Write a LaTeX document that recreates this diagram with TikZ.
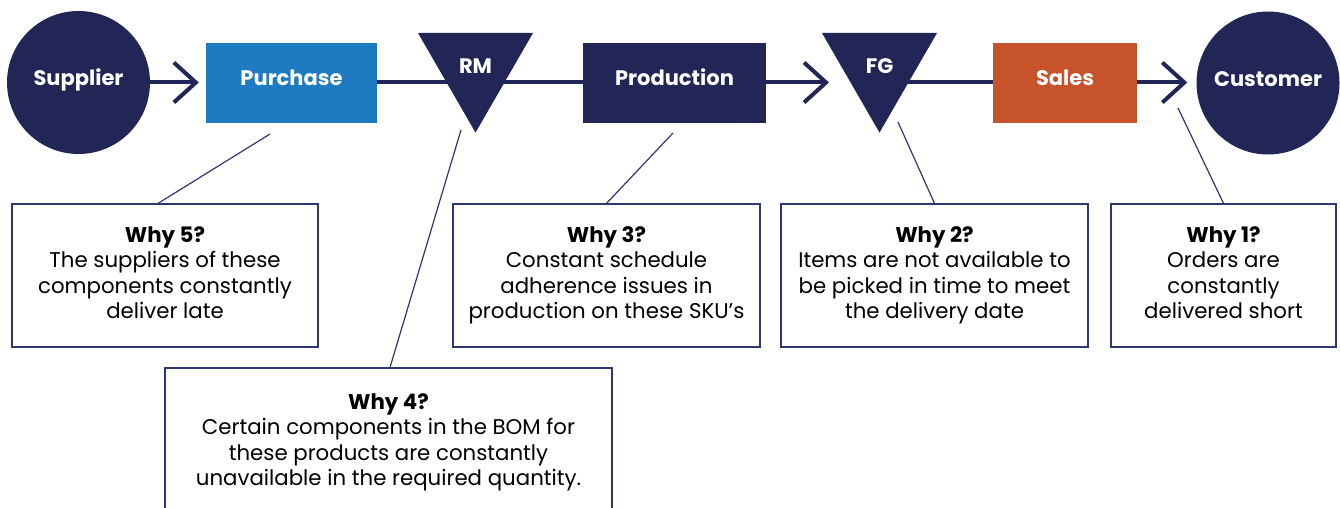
\documentclass[tikz,border=0pt]{standalone}
\usepackage{fontspec}
\setmainfont{Poppins}
\usetikzlibrary{arrows.meta,shapes.geometric,backgrounds}
\definecolor{navy}{HTML}{212656}
\definecolor{pblue}{HTML}{1E7BC1}
\definecolor{sorange}{HTML}{C6532C}
\definecolor{boxline}{HTML}{2E3770}
\begin{document}
\begin{tikzpicture}[x=1pt,y=-1pt,
  lbl/.style={text=white,font=\fontsize{21}{25}\selectfont\bfseries},
  circ/.style={circle,fill=navy,minimum size=143pt,inner sep=0pt,lbl,text height=14pt,text depth=7pt},
  rectbox/.style={rectangle,minimum height=80pt,inner sep=0pt,lbl,text height=12pt,text depth=6pt},
  tri/.style={regular polygon,regular polygon sides=3,shape border rotate=180,fill=navy,minimum size=132.8pt,inner sep=0pt,lbl,text height=16pt,text depth=1.8pt},
  flow/.style={navy,line width=4pt},
  flowarrow/.style={flow,-{Straight Barb[length=22pt,width=40pt]}},
  whybox/.style={draw=boxline,line width=1.2pt,rectangle,minimum height=143pt,inner sep=0pt,align=center,font=\fontsize{21.3}{25.5}\selectfont},
  conn/.style={boxline,line width=1.2pt}]
\useasboundingbox (0,0) rectangle (1340,508);
% process nodes
\node[circ] (supplier) at (78.5,82.5) {Supplier};
\node[rectbox,fill=pblue,minimum width=171pt] (purchase) at (291.5,83) {Purchase};
\node[tri] (rm) at (475.5,66.2) {RM};
\node[rectbox,fill=navy,minimum width=183pt] (production) at (674.5,83) {Production};
\node[tri] (fg) at (879.5,66.2) {FG};
\node[rectbox,fill=sorange,minimum width=144pt] (sales) at (1065,83) {Sales};
\node[circ] (customer) at (1268,83) {Customer};
\coordinate (fgin) at (829,82.5);
% flow lines
\begin{scope}[on background layer]
\draw[flow] (purchase.east |- 0,82.5) -- (production.west |- 0,82.5);
\draw[flow] (fg.center |- 0,82.5) -- (sales.west |- 0,82.5);
\end{scope}
\draw[flowarrow,shorten >=7pt] (supplier.east) -- (purchase.west |- supplier.east);
\draw[flowarrow] (production.east |- fgin) -- (fgin);
\draw[flowarrow,shorten >=9pt] (sales.east |- 0,82.5) -- (customer.west |- 0,82.5);
% why boxes
\node[whybox,minimum width=306pt] (why5) at (165,275.5) {\strut\textbf{Why 5?}\\\strut The suppliers of these\\\strut components constantly\\\strut deliver late};
\node[whybox,minimum width=447pt,minimum height=149pt] (why4) at (388.5,442.5) {\strut\textbf{Why 4?}\\\strut Certain components in the BOM for\\\strut these products are constantly\\\strut unavailable in the required quantity.};
\node[whybox,minimum width=307pt] (why3) at (606.5,275.5) {\strut\textbf{Why 3?}\\\strut Constant schedule\\\strut adherence issues in\\\strut production on these SKU’s};
\node[whybox,minimum width=307pt] (why2) at (934.5,275.5) {\strut\textbf{Why 2?}\\\strut Items are not available to\\\strut be picked in time to meet\\\strut the delivery date};
\node[whybox,minimum width=225pt] (why1) at (1223.5,275.5) {\strut\textbf{Why 1?}\\\strut Orders are\\\strut constantly\\\strut delivered short};
% connector free ends
\coordinate (c5) at (270,134);
\coordinate (c4) at (461,130);
\coordinate (c3) at (673,133);
\coordinate (c2) at (898,122);
\coordinate (c1) at (1178,108);
\draw[conn] ([xshift=-7pt]why5.north) -- (c5);
\draw[conn] ([xshift=1.5pt]why4.north) -- (c4);
\draw[conn] (why3.north) -- (c3);
\draw[conn] (why2.north) -- (c2);
\draw[conn] (why1.north) -- (c1);
\end{tikzpicture}
\end{document}
